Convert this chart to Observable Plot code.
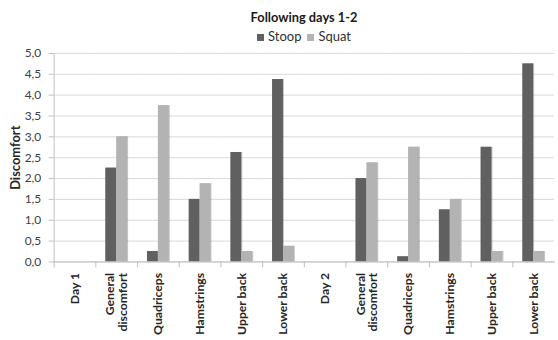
<!DOCTYPE html>
<html>
<head>
<meta charset="utf-8">
<script src="https://cdn.jsdelivr.net/npm/d3@7"></script>
<script src="https://cdn.jsdelivr.net/npm/@observablehq/plot@0.6"></script>
<style>
  html, body { margin: 0; padding: 0; background: #fff; overflow: hidden; }
  body { width: 558px; height: 340px; font-family: Lato, "Open Sans", sans-serif; color: #404040; }
  #title { box-sizing: border-box; width: 558px; padding-left: 50px; text-align: center; font-weight: bold; font-size: 12.8px; color: #1a1a1a; height: 27px; line-height: 34px; }
  #legend { box-sizing: border-box; width: 558px; padding-left: 50px; text-align: center; font-size: 13px; height: 18px; line-height: 18px; color: #303030; }
  #legend span.sw { display: inline-block; width: 7px; height: 7px; margin: 0 4px 0 0; vertical-align: 0px; }
  #legend span.item { margin: 0 3px; }
  #chart svg { display: block; overflow: visible; }
  #chart g[aria-label="bar"] rect { filter: drop-shadow(1.5px 0.5px 0.6px rgba(0,0,0,0.22)); }
  #chart g[aria-label="y-axis label"] text { font-weight: bold; font-size: 13px; fill: #262626; }
</style>
</head>
<body>
<div id="title">Following days 1-2</div>
<div id="legend"></div>
<div id="chart"></div>
<script>
// Body regions along the x axis, in order (two days of follow-up)
const categories = [
  "Day 1", "General\ndiscomfort", "Quadriceps", "Hamstrings", "Upper back", "Lower back",
  "Day 2", "General\ndiscomfort", "Quadriceps", "Hamstrings", "Upper back", "Lower back"
];
const series = ["Stoop", "Squat"];
const stoop = [0, 2.25, 0.25, 1.5, 2.625, 4.375, 0, 2.0, 0.125, 1.25, 2.75, 4.75];
const squat = [0, 3.0, 3.75, 1.875, 0.25, 0.375, 0, 2.375, 2.75, 1.5, 0.25, 0.25];
const yTicks = [0, 0.5, 1, 1.5, 2, 2.5, 3, 3.5, 4, 4.5, 5];
const colors = ["#606060", "#b3b3b3"];

const rows = categories.flatMap((c, i) => [
  {i, series: "Stoop", value: stoop[i]},
  {i, series: "Squat", value: squat[i]}
]);
const idx = categories.map((c, i) => i);

// legend
document.getElementById("legend").innerHTML = series.map((s, k) =>
  `<span class="item"><span class="sw" style="background:${colors[k]}"></span>${s}</span>`).join("");

const width = 562, height = 295;
const marginTop = 8, marginBottom = 77, marginLeft = 50, marginRight = 1;
const plotH = height - marginTop - marginBottom;
const axisColor = "#bfbfbf";

const chart = Plot.plot({
  width, height, marginTop, marginBottom, marginLeft, marginRight,
  style: {fontFamily: "Lato, 'Open Sans', sans-serif", fontSize: "12px", color: "#404040", background: "transparent"},
  fx: {domain: idx, padding: 0, axis: null},
  x: {domain: series, paddingInner: 0, paddingOuter: 0.78, axis: null},
  y: {domain: [0, 5], axis: null},
  color: {domain: series, range: colors},
  marks: [
    Plot.gridY(yTicks, {stroke: "#d9d9d9", strokeOpacity: 1}),
    Plot.barY(rows, {fx: "i", x: "series", y: "value", fill: "series"}),
    // x axis line and category separator ticks
    Plot.frame({anchor: "bottom", stroke: axisColor, strokeOpacity: 1}),
    Plot.frame({anchor: "left", stroke: axisColor, strokeOpacity: 1, insetTop: plotH, insetBottom: -5}),
    // y axis line in the first panel
    Plot.frame({anchor: "left", stroke: axisColor, strokeOpacity: 1, fx: [0]}),
    Plot.axisY(yTicks, {
      tickSize: 5, tickPadding: 8, stroke: axisColor, strokeOpacity: 1,
      tickFormat: d => d.toFixed(1).replace(".", ","),
      label: "Discomfort", labelArrow: false, labelAnchor: "center", labelOffset: 44, fontSize: 12
    }),
    Plot.text(idx, {
      fx: d => d, text: d => categories[d], frameAnchor: "bottom",
      rotate: -90, textAnchor: "end", lineAnchor: "middle", dy: 11,
      fontWeight: "bold", fontSize: 12.3, fill: "#262626"
    })
  ]
});
document.getElementById("chart").appendChild(chart);
</script>
</body>
</html>
